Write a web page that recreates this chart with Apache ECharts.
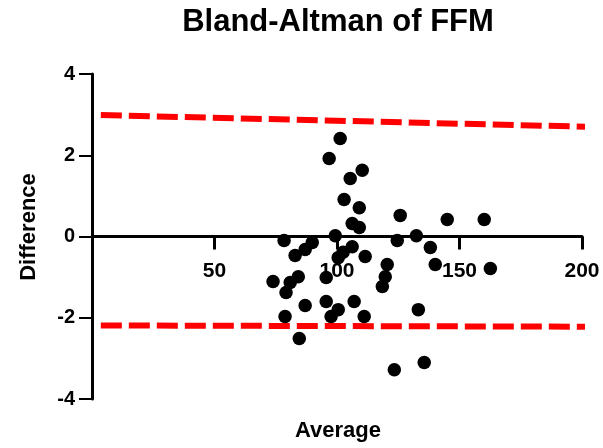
<!DOCTYPE html>
<html>
<head>
<meta charset="utf-8">
<script src="https://cdn.jsdelivr.net/npm/echarts@6/dist/echarts.min.js"></script>
<style>
html,body{margin:0;padding:0;background:#fff;}
#chart{width:603px;height:448px;}
</style>
</head>
<body>
<div id="chart"></div>
<script>
// Average (x) and Difference (y) of each subject
const averages = [101.3, 96.8, 110.3, 105.4, 102.9, 109.1, 106.2, 109.1, 99.3, 125.8,
  145.0, 160.1, 124.6, 132.4, 138.1, 140.1, 120.5, 162.6, 78.4, 89.9,
  87.0, 82.9, 106.2, 102.5, 100.5, 111.5, 73.9, 80.9, 84.2, 79.2,
  95.6, 119.7, 118.5, 87.0, 95.6, 100.5, 97.6, 107.0, 111.1, 78.8,
  84.6, 133.2, 123.4, 135.6];
const differences = [2.41, 1.92, 1.63, 1.43, 0.91, 0.71, 0.32, 0.22, 0.02, 0.52,
  0.42, 0.42, -0.10, 0.02, -0.27, -0.69, -0.69, -0.79, -0.10, -0.15,
  -0.32, -0.47, -0.25, -0.39, -0.52, -0.49, -1.11, -1.13, -0.99, -1.38,
  -1.01, -0.99, -1.23, -1.70, -1.60, -1.80, -1.97, -1.60, -1.97, -1.97,
  -2.51, -1.80, -3.28, -3.10];
// limits of agreement (start / end of each dashed line)
const limitX = [3.6, 203];
const upperLimit = [2.99, 2.70];
const lowerLimit = [-2.19, -2.22];
// axis ticks
const xTicks = [50, 100, 150, 200];
const yTicks = [-4, -2, 0, 2, 4];

const FONT = '"Liberation Sans", Arial, Helvetica, sans-serif';
const chart = echarts.init(document.getElementById('chart'), null, {renderer: 'canvas'});

const points = averages.map((a, i) => [a, differences[i]]);
const upper = limitX.map((x, i) => [x, upperLimit[i]]);
const lower = limitX.map((x, i) => [x, lowerLimit[i]]);

const GRID_TOP = 74, GRID_BOTTOM = 49, H = 448;
// x axis sits at difference = 0 (middle of the y range)
const xAxisOffset = -(H - GRID_TOP - GRID_BOTTOM) / 2;

chart.setOption({
  animation: false,
  backgroundColor: '#fff',
  grid: {left: 92, right: 21, top: GRID_TOP, bottom: GRID_BOTTOM, containLabel: false},
  xAxis: {
    type: 'value', min: 0, max: 200, position: 'bottom', offset: xAxisOffset,
    splitLine: {show: false},
    axisLine: {show: true, onZero: false, lineStyle: {color: '#000', width: 3}},
    axisTick: {show: true, length: 13, lineStyle: {color: '#000', width: 3}, customValues: xTicks},
    axisLabel: {show: true, customValues: xTicks, margin: 24, color: '#000',
      fontFamily: FONT, fontWeight: 'bold', fontSize: 21}
  },
  yAxis: {
    type: 'value', min: yTicks[0], max: yTicks[yTicks.length - 1], interval: 2,
    splitLine: {show: false},
    axisLine: {show: true, onZero: false, lineStyle: {color: '#000', width: 3}},
    axisTick: {show: true, length: 13, lineStyle: {color: '#000', width: 2}},
    axisLabel: {margin: 17, color: '#000', fontFamily: FONT, fontWeight: 'bold', fontSize: 20}
  },
  series: [
    {type: 'line', data: upper, symbol: 'none', clip: false, silent: true, z: 2,
      lineStyle: {color: '#FF0000', width: 6, type: [21, 7]}},
    {type: 'line', data: lower, symbol: 'none', clip: false, silent: true, z: 2,
      lineStyle: {color: '#FF0000', width: 6, type: [21, 7]}},
    {type: 'scatter', data: points, symbol: 'circle', symbolSize: 13.5, z: 5,
      itemStyle: {color: '#000', opacity: 1}}
  ],
  graphic: [
    {type: 'text', x: 338, y: 22, style: {text: 'Bland-Altman of FFM', fill: '#000',
      font: 'bold 31px ' + FONT, align: 'center', verticalAlign: 'middle'}},
    {type: 'text', x: 338, y: 431, style: {text: 'Average', fill: '#000',
      font: 'bold 22px ' + FONT, align: 'center', verticalAlign: 'middle'}},
    {type: 'text', x: 29, y: 227, rotation: Math.PI / 2, style: {text: 'Difference', fill: '#000',
      font: 'bold 22px ' + FONT, align: 'center', verticalAlign: 'middle'}}
  ]
});
</script>
</body>
</html>
